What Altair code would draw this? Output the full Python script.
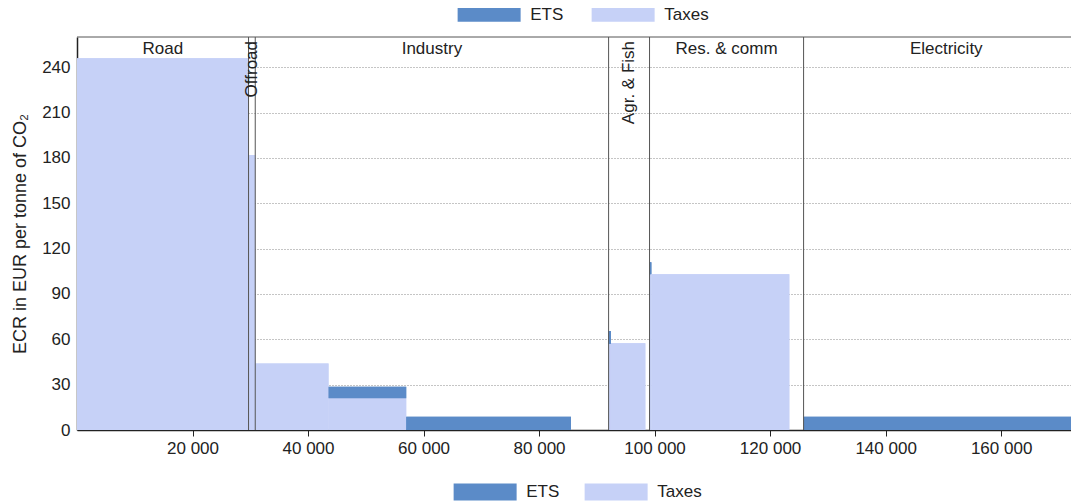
import altair as alt
import pandas as pd

# ---- data ----
seg_start = [0, 29700, 30860, 43550, 57000, 92040, 92450, 99130, 99450, 125800]
seg_end = [29700, 30860, 43550, 57000, 85520, 92450, 98400, 99450, 123330, 175200]
seg_taxes = [246, 182, 44, 21, 0, 57, 57.4, 103, 103, 0]
seg_ets = [0, 0, 0, 7.6, 8.8, 8.5, 0, 8, 0, 8.8]

sector_names = ["Road", "Offroad", "Industry", "Agr. & Fish", "Res. & comm", "Electricity"]
sector_start = [0, 29700, 30860, 92040, 99130, 125800]
sector_end = [29700, 30860, 92040, 99130, 125800, 175200]
sector_vertical = [False, True, False, True, False, False]

x_ticks = [20000, 40000, 60000, 80000, 100000, 120000, 140000, 160000]
y_ticks = [0, 30, 60, 90, 120, 150, 180, 210, 240]

ETS_C = "#5b8bc8"
TAX_C = "#c6d1f7"
FONT = "Liberation Sans"

rows = []
for s, e, t, k in zip(seg_start, seg_end, seg_taxes, seg_ets):
    if t > 0:
        rows.append({"type": "Taxes", "x0": s, "x1": e, "y0": 0, "y1": t})
    if k > 0:
        rows.append({"type": "ETS", "x0": s, "x1": e, "y0": t, "y1": t + k})
bars_df = pd.DataFrame(rows)

sec_df = pd.DataFrame({
    "name": sector_names,
    "start": sector_start,
    "end": sector_end,
    "vertical": sector_vertical,
})
sec_df["mid"] = (sec_df["start"] + sec_df["end"]) / 2

x_scale = alt.Scale(domain=[0, 172100], nice=False, zero=False)
y_scale = alt.Scale(domain=[0, 260], nice=False)
color_scale = alt.Scale(domain=["ETS", "Taxes"], range=[ETS_C, TAX_C])

# legend swatch: a wide, flat bar drawn to the right of a small nominal symbol
SW_R = 7.875           # symbol "radius" (sqrt(size)/2)
SW_SIZE = (2 * SW_R) ** 2


def legend(x, y, swatch_h, colpad):
    hh = round(swatch_h / 2 / SW_R, 3)
    return alt.Legend(
        orient="none", legendX=x, legendY=y, direction="horizontal", title=None,
        symbolType=f"M-1,-{hh}H7V{hh}H-1Z", symbolSize=SW_SIZE,
        symbolStrokeWidth=0, symbolOpacity=1, labelFontSize=17,
        labelOffset=63 - 2 * SW_R + 9,
        columnPadding=colpad, padding=0, labelColor="#222", labelFont=FONT,
    )


x_axis = alt.Axis(
    values=x_ticks, title=None, grid=False, ticks=True, tickSize=6, tickColor="#222",
    labelFontSize=17, labelColor="#222", labelPadding=4, domainColor="#222", domainWidth=1.5,
    labelExpr="replace(format(datum.value, ','), ',', ' ')",
)
y_axis = alt.Axis(
    values=y_ticks, title="ECR in EUR per tonne of CO₂", ticks=False, labelFontSize=17,
    labelColor="#222", labelPadding=7, domainColor="#222", domainWidth=1.5,
    grid=True, gridDash=[1, 2], gridColor="#8a8a8a", gridWidth=1,
    titleFontSize=18, titleFontWeight="normal", titleColor="#222", titlePadding=12,
)

base = alt.Chart(bars_df)
bars_top = base.mark_rect(clip=True).encode(
    x=alt.X("x0:Q", scale=x_scale, axis=x_axis),
    x2="x1:Q",
    y=alt.Y("y0:Q", scale=y_scale, axis=y_axis),
    y2="y1:Q",
    color=alt.Color("type:N", scale=color_scale, legend=legend(380, -31, 14, 27)),
)
bars_bottom = base.mark_rect(clip=True).encode(
    x=alt.X("x0:Q", scale=x_scale),
    x2="x1:Q",
    y=alt.Y("y0:Q", scale=y_scale),
    y2="y1:Q",
    color=alt.Color("type:N", scale=color_scale, legend=legend(376, 446.5, 17, 24)),
)

seps = alt.Chart(sec_df).transform_filter("datum.start > 0").mark_rule(
    color="#555", strokeWidth=1
).encode(x=alt.X("start:Q", scale=x_scale))

# top frame line of the plot area
frame_top = alt.Chart(sec_df).transform_filter("datum.start == 0").mark_rule(
    color="#555", strokeWidth=1
).encode(y=alt.value(0))

lab_h = alt.Chart(sec_df).transform_filter("!datum.vertical").mark_text(
    fontSize=17, baseline="middle", align="center", color="#222", font=FONT
).encode(x=alt.X("mid:Q", scale=x_scale), y=alt.value(12), text="name:N")

lab_v = alt.Chart(sec_df).transform_filter("datum.vertical").mark_text(
    fontSize=17, baseline="middle", align="right", angle=270, color="#222", font=FONT
).encode(x=alt.X("mid:Q", scale=x_scale), y=alt.value(4), text="name:N")

chart = alt.layer(bars_top, bars_bottom, seps, frame_top, lab_h, lab_v).resolve_scale(
    color="independent"
).properties(
    width=994, height=393,
    autosize=alt.AutoSizeParams(type="none"),
    padding={"left": 69, "top": 29, "right": 0, "bottom": 74},
).configure(font=FONT).configure_view(strokeOpacity=0)

chart.save("out.html", embed_options={"renderer": "svg", "actions": False})
